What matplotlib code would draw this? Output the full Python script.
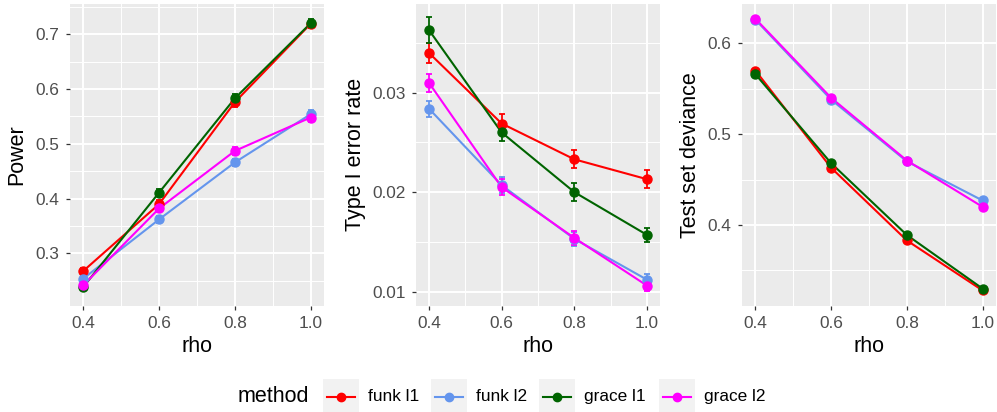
import matplotlib
matplotlib.use('Agg')
import matplotlib.pyplot as plt
from matplotlib.lines import Line2D
from matplotlib.patches import Rectangle
from matplotlib.ticker import MultipleLocator

plt.rcParams['font.family'] = ['Liberation Sans', 'DejaVu Sans']

rho = [0.4, 0.6, 0.8, 1.0]
methods = ['funk l1', 'funk l2', 'grace l1', 'grace l2']
colors = ['#FF0000', '#6495ED', '#006400', '#FF00FF']

power = {
    'funk l1': [0.268, 0.390, 0.576, 0.719],
    'funk l2': [0.254, 0.362, 0.466, 0.554],
    'grace l1': [0.239, 0.411, 0.583, 0.720],
    'grace l2': [0.242, 0.382, 0.487, 0.548],
}
power_se = {
    'funk l1': [0.006, 0.007, 0.008, 0.007],
    'funk l2': [0.006, 0.007, 0.007, 0.008],
    'grace l1': [0.005, 0.007, 0.008, 0.008],
    'grace l2': [0.006, 0.007, 0.008, 0.008],
}
type1 = {
    'funk l1': [0.0340, 0.0269, 0.0233, 0.0213],
    'funk l2': [0.0284, 0.0207, 0.0153, 0.0112],
    'grace l1': [0.0363, 0.0260, 0.0200, 0.0157],
    'grace l2': [0.0310, 0.0205, 0.0154, 0.0106],
}
type1_se = {
    'funk l1': [0.0010, 0.0010, 0.0009, 0.0009],
    'funk l2': [0.0008, 0.0008, 0.0007, 0.0006],
    'grace l1': [0.0013, 0.0009, 0.0009, 0.0007],
    'grace l2': [0.0009, 0.0008, 0.0007, 0.0005],
}
deviance = {
    'funk l1': [0.570, 0.463, 0.383, 0.328],
    'funk l2': [0.626, 0.538, 0.470, 0.427],
    'grace l1': [0.566, 0.468, 0.389, 0.330],
    'grace l2': [0.627, 0.540, 0.471, 0.420],
}
deviance_se = {
    'funk l1': [0.002, 0.002, 0.002, 0.002],
    'funk l2': [0.002, 0.002, 0.002, 0.002],
    'grace l1': [0.002, 0.002, 0.002, 0.002],
    'grace l2': [0.002, 0.002, 0.002, 0.002],
}

W, H = 997, 412
fig = plt.figure(figsize=(W / 100, H / 100), dpi=100)


def fx(x):
    return x / W


def fy(y):
    return 1 - y / H


panels = [
    # left, right (px), ylabel, data, se, ylim, major, minor, label x, fmt
    (70, 324, 'Power', power, power_se, (0.2047, 0.7553), 0.1, 0.05, 17, '%.1f'),
    (416, 660, 'Type I error rate', type1, type1_se, (0.00861, 0.03891), 0.01, 0.005, 355, '%.2f'),
    (742, 996, 'Test set deviance', deviance, deviance_se, (0.3114, 0.6433), 0.1, 0.05, 690, '%.1f'),
]
top, bottom = 4, 305.5

for left, right, ylab, data, se, ylim, major, minor, labx, fmt in panels:
    ax = fig.add_axes([fx(left), fy(bottom), (right - left) / W, (bottom - top) / H])
    ax.set_facecolor('#EBEBEB')
    for s in ax.spines.values():
        s.set_visible(False)
    ax.set_xlim(0.3645, 1.0355)
    ax.set_ylim(*ylim)
    ax.set_xticks(rho)
    ax.set_xticklabels(['%.1f' % r for r in rho])
    ax.xaxis.set_minor_locator(MultipleLocator(0.1))
    ax.yaxis.set_major_locator(MultipleLocator(major))
    ax.yaxis.set_minor_locator(MultipleLocator(minor))
    ax.yaxis.set_major_formatter(plt.FormatStrFormatter(fmt))
    ax.grid(which='major', color='white', lw=1.4)
    ax.grid(which='minor', color='white', lw=0.7)
    ax.set_axisbelow(True)
    ax.tick_params(which='major', length=2.9, width=0.9, color='#333333',
                   labelcolor='#4D4D4D', labelsize=12.4, pad=4.5)
    ax.tick_params(which='minor', length=0)

    for m, c in zip(methods, colors):
        ax.plot(rho, data[m], color=c, lw=1.5, zorder=2)
    for m, c in zip(methods, colors):
        ax.errorbar(rho, data[m], yerr=se[m], fmt='o', color=c, ms=6.5,
                    elinewidth=1.3, capsize=2.2, capthick=1.3, zorder=3)

    ax.set_xlabel('rho', fontsize=15.5, va='center')
    ax.xaxis.set_label_coords(0.5, -(347 - bottom) / (bottom - top))
    ax.set_ylabel(ylab, fontsize=15.5, va='center')
    ax.yaxis.set_label_coords((labx - left) / (right - left), 0.5)

# legend at the bottom, ggplot style
ly = 396.7
fig.text(fx(238), fy(ly), 'method', fontsize=15.5, ha='left', va='center')
key_left = [323, 431, 539, 659]
for kl, m, c in zip(key_left, methods, colors):
    fig.add_artist(Rectangle((fx(kl), fy(ly + 17)), 35.5 / W, 34.5 / H,
                             transform=fig.transFigure, facecolor='#F2F2F2',
                             edgecolor='none'))
    fig.add_artist(Line2D([fx(kl + 4), fx(kl + 31.5)], [fy(ly), fy(ly)],
                          transform=fig.transFigure, color=c, lw=1.5))
    fig.add_artist(Line2D([fx(kl + 17.75)], [fy(ly)], transform=fig.transFigure,
                          color=c, marker='o', ms=6))
    fig.text(fx(kl + 45), fy(ly), m, fontsize=12.4, ha='left', va='center')

fig.savefig('out.png', dpi=100)
